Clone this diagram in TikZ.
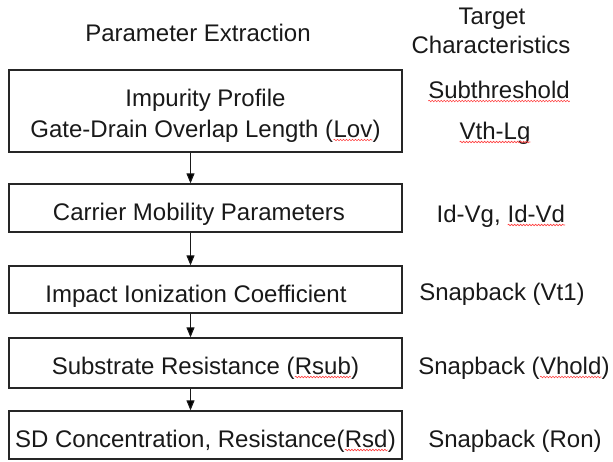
\documentclass[tikz,border=0pt]{standalone}
\usepackage{fontspec}
\setmainfont{Liberation Sans}
\usetikzlibrary{arrows.meta,decorations.pathmorphing}
\tikzset{
  squig/.style={draw=red!75, line width=0.6pt, decorate,
    decoration={snake, amplitude=0.8pt, segment length=3pt}}
}
\newcommand\sqw[1]{\tikz[baseline=(sqword.base)]{\node[inner sep=0pt,outer sep=0pt] (sqword) {#1};\draw[squig] ([yshift=-3pt]sqword.base west) -- ([yshift=-3pt]sqword.base east);}}
\begin{document}
\begin{tikzpicture}[x=1pt,y=-1pt,
  box/.style={draw=black!85, line width=1.3pt, minimum width=393pt, inner sep=0pt},
  lbl/.style={font=\fontsize{24}{28}\selectfont, text=black!90, anchor=base, inner sep=0pt},
  arr/.style={draw=black!90, line width=1.1pt, -{Triangle[length=10pt,width=8pt]}}]
\useasboundingbox (0,0) rectangle (613,461);
% headers
\node[lbl] (hpe) at (198,41) {Parameter Extraction};
\node[lbl] (htg) at (492,24) {Target};
\node[lbl] (hch) at (491,53) {Characteristics};
% boxes
\node[box, minimum height=82pt] (b1) at (205.5,111) {};
\node[box, minimum height=48pt] (b2) at (205.5,208) {};
\node[box, minimum height=47pt] (b3) at (205.5,289.5) {};
\node[box, minimum height=50pt] (b4) at (205.5,363) {};
\node[box, minimum height=48pt] (b5) at (205.5,435) {};
% box texts
\node[lbl] (t1a) at (205.5,106) {Impurity Profile};
\node[lbl] (t1b) at (205.5,137) {Gate-Drain Overlap Length (\sqw{Lov})};
\node[lbl] (t2) at (199,220) {Carrier Mobility Parameters};
\node[lbl] (t3) at (196,302) {Impact Ionization Coefficient};
\node[lbl] (t4) at (205.5,374) {Substrate Resistance (\sqw{Rsub})};
\node[lbl] (t5) at (205.5,447) {SD Concentration, Resistance(\sqw{Rsd})};
% target characteristics
\node[lbl] (c1a) at (499,98) {\sqw{Subthreshold}};
\node[lbl] (c1b) at (495,139) {\sqw{Vth-Lg}};
\node[lbl] (c2) at (501,222) {Id-Vg, \sqw{Id-Vd}};
\node[lbl] (c3) at (502,300) {Snapback (Vt1)};
\node[lbl] (c4) at (514,374) {Snapback (\sqw{Vhold})};
\node[lbl] (c5) at (515,447) {Snapback (Ron)};
% arrows
\coordinate (ax) at (190.5,0);
\draw[arr] (b1.south -| ax) -- (b2.north -| ax);
\draw[arr] (b2.south -| ax) -- (b3.north -| ax);
\draw[arr] (b3.south -| ax) -- (b4.north -| ax);
\draw[arr] (b4.south -| ax) -- (b5.north -| ax);
\end{tikzpicture}
\end{document}
